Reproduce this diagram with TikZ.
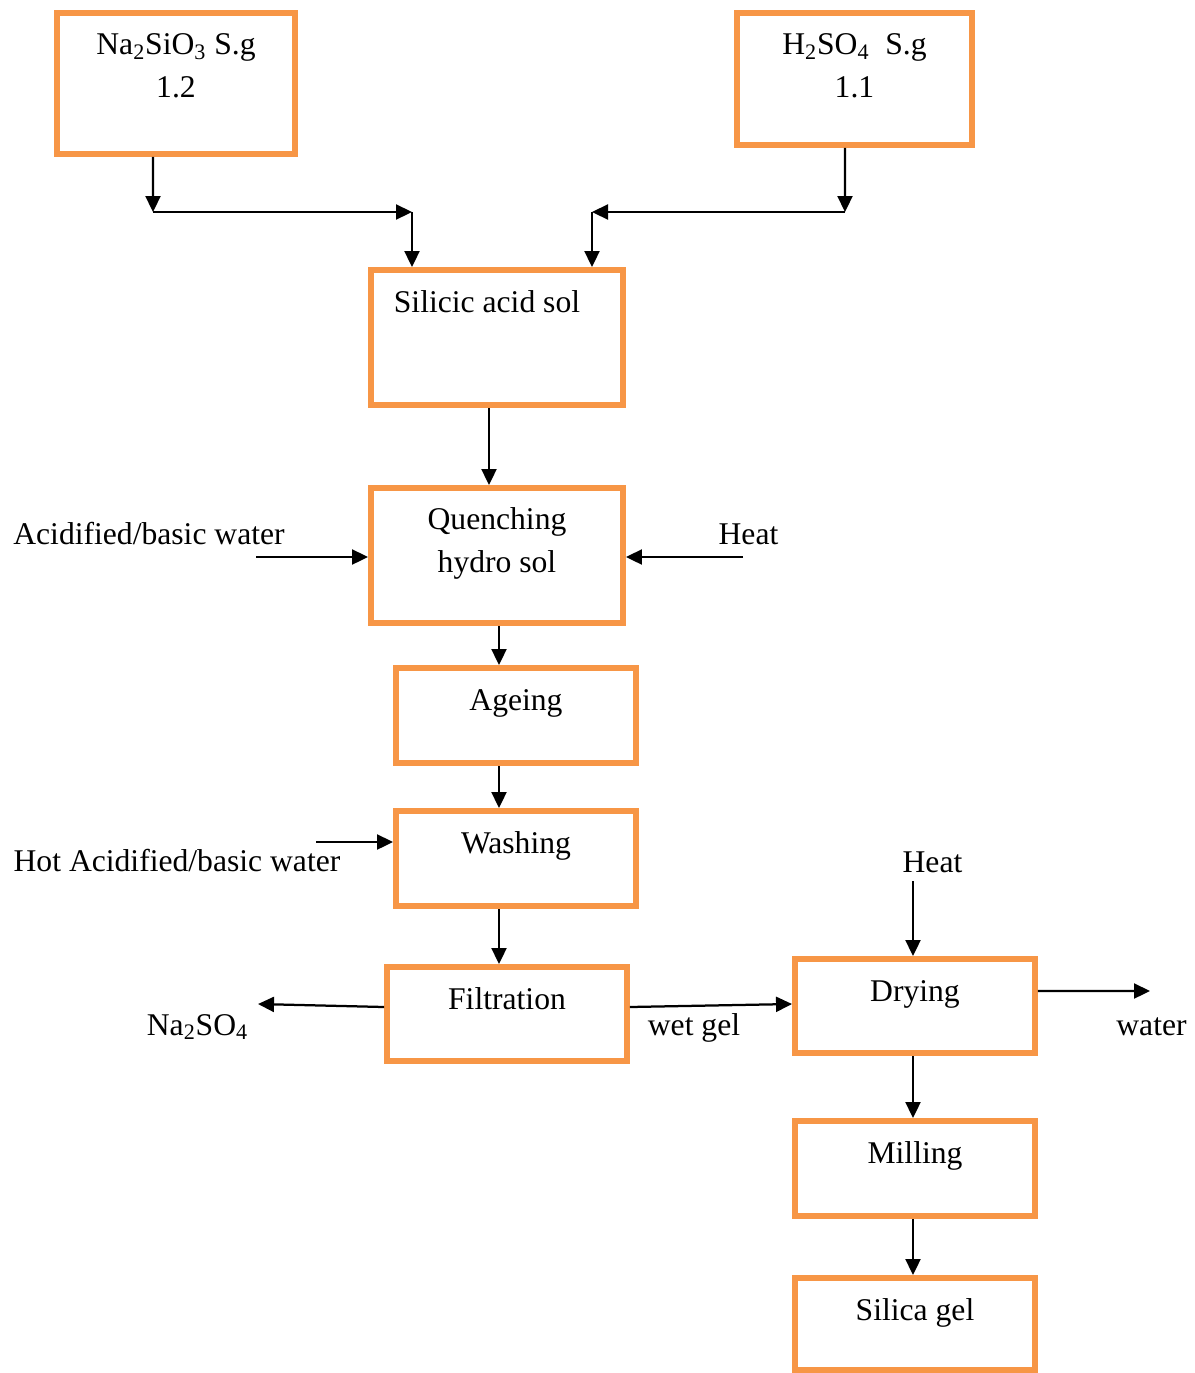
\documentclass[tikz,border=0pt]{standalone}
\usepackage{fontspec}
\setmainfont{Liberation Serif}
\usetikzlibrary{arrows.meta}

\definecolor{boxorange}{RGB}{247,150,70}

\tikzset{
    procbox/.style={rectangle, draw=boxorange, line width=0.12cm, fill=white, minimum width=4.8cm},
    boxtext/.style={anchor=base, align=center, inner sep=0pt, yshift=-0.9cm, font=\fontsize{18}{24}\selectfont},
    boxtexttwo/.style={boxtext, yshift=-0.84cm},
    sidetext/.style={anchor=base, inner sep=0pt, font=\fontsize{18}{24}\selectfont},
    flow/.style={line width=0.045cm, -{Triangle[length=0.32cm, width=0.3cm]}}
}

\begin{document}
\begin{tikzpicture}[x=0.02cm, y=-0.02cm]
    \useasboundingbox (0, 0) rectangle (1194, 1373);

    \node[procbox, minimum width=4.76cm, minimum height=2.82cm, label={[boxtexttwo]north:Na\textsubscript{2}SiO\textsubscript{3} S.g\\1.2}] (na) at (176, 83.5) {};
    \node[procbox, minimum width=4.70cm, minimum height=2.64cm, label={[boxtexttwo]north:H\textsubscript{2}SO\textsubscript{4}\ \ S.g\\1.1}] (hs) at (854.5, 79) {};
    \node[procbox, minimum width=5.04cm, minimum height=2.70cm, label={[boxtext, xshift=-0.2cm]north:Silicic acid sol}] (sol) at (497, 337.5) {};
    \node[procbox, minimum width=5.04cm, minimum height=2.70cm, label={[boxtexttwo]north:Quenching\\hydro sol}] (quench) at (497, 555.5) {};
    \node[procbox, minimum height=1.90cm, label={[boxtext]north:Ageing}] (age) at (516, 715.5) {};
    \node[procbox, minimum height=1.90cm, label={[boxtext]north:Washing}] (wash) at (516, 858.5) {};
    \node[procbox, minimum height=1.88cm, label={[boxtext]north:Filtration}] (filt) at (507, 1014) {};
    \node[procbox, minimum height=1.88cm, label={[boxtext]north:Drying}] (dry) at (915, 1006) {};
    \node[procbox, minimum height=1.90cm, label={[boxtext]north:Milling}] (mill) at (915, 1168.5) {};
    \node[procbox, minimum height=1.84cm, label={[boxtext]north:Silica gel}] (gel) at (915, 1324) {};

    \node[sidetext] (acwater) at (149, 544) {Acidified/basic water};
    \node[sidetext] (heat1) at (748.5, 544) {Heat};
    \node[sidetext] (hotwater) at (177, 871) {Hot Acidified/basic water};
    \node[sidetext] (sulfate) at (197.5, 1035) {Na\textsubscript{2}SO\textsubscript{4}};
    \node[sidetext] (wetgel) at (694, 1035) {wet gel};
    \node[sidetext] (heat2) at (932.5, 872) {Heat};
    \node[sidetext] (water) at (1151.5, 1035) {water};

    \coordinate (najoin) at (153, 212);
    \coordinate (solleft) at (412, 212);
    \coordinate (hsjoin) at (845, 212);
    \coordinate (solright) at (592, 212);
    \coordinate (acin) at (256, 557);
    \coordinate (heatin) at (743, 557);
    \coordinate (hotin) at (316, 842);
    \coordinate (sulfout) at (258, 1004);
    \coordinate (dryheat) at (913, 881);
    \coordinate (waterout) at (1150, 991);

    % feeds into the sol
    \draw[flow] ([xshift=-0.46cm]na.south) -- (najoin);
    \draw[flow] (najoin) -- (solleft);
    \draw[flow] (solleft) -- (solleft |- sol.north);
    \draw[flow] ([xshift=-0.19cm]hs.south) -- (hsjoin);
    \draw[flow] (hsjoin) -- (solright);
    \draw[flow] (solright) -- (solright |- sol.north);

    % main line
    \draw[flow] ([xshift=-0.16cm]sol.south) -- ([xshift=-0.16cm]quench.north);
    \draw[flow] (acin) -- (acin -| quench.west);
    \draw[flow] (heatin) -- (heatin -| quench.east);
    \draw[flow] ([xshift=0.04cm]quench.south) -- ([xshift=0.04cm]quench.south |- age.north);
    \draw[flow] ([xshift=-0.34cm]age.south) -- ([xshift=-0.34cm]wash.north);
    \draw[flow] (hotin) -- (hotin -| wash.west);
    \draw[flow] ([xshift=-0.34cm]wash.south) -- ([xshift=-0.34cm]wash.south |- filt.north);
    \draw[flow] ([yshift=0.14cm]filt.west) -- (sulfout);
    \draw[flow] ([yshift=0.14cm]filt.east) -- ([yshift=0.04cm]dry.west);

    % drying side
    \draw[flow] (dryheat) -- (dryheat |- dry.north);
    \draw[flow] ([yshift=0.3cm]dry.east) -- (waterout);
    \draw[flow] ([xshift=-0.04cm]dry.south) -- ([xshift=-0.04cm]mill.north);
    \draw[flow] ([xshift=-0.04cm]mill.south) -- ([xshift=-0.04cm]gel.north);
\end{tikzpicture}
\end{document}
